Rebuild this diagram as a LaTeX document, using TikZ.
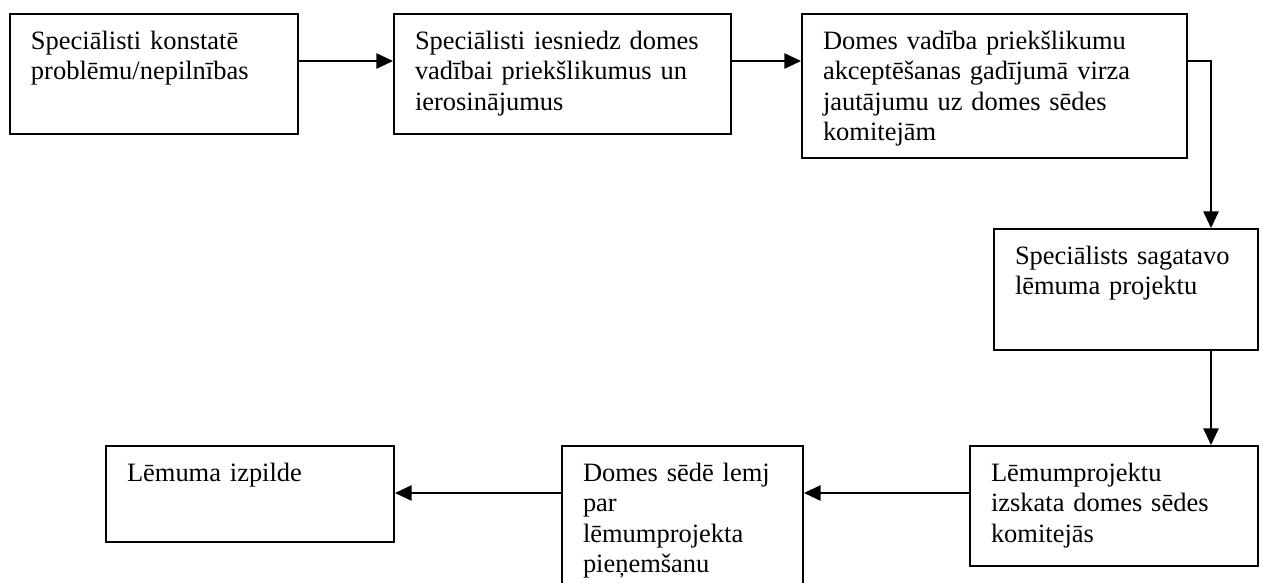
\documentclass[tikz,border=0pt]{standalone}
\usepackage{fontspec}
\setmainfont{Liberation Serif}
\usetikzlibrary{arrows.meta}
\tikzset{
  stepbox/.style={draw, line width=1.5pt, rectangle, anchor=north west,
    inner xsep=15.75pt, inner ysep=0pt, align=left, text height=26.25pt,
    font=\fontsize{19.85pt}{22.9pt}\selectfont},
  arr/.style={line width=1.3pt, -{Triangle[length=12.5pt,width=11.5pt]}}
}
\begin{document}
\begin{tikzpicture}[x=0.75pt,y=-0.75pt]
\useasboundingbox (0,0) rectangle (1263,582);
\node[stepbox, text width=184.5pt, text depth=63.75pt] (b1) at (9,13)
  {Speciālisti konstatē\\problēmu/nepilnības};
\node[stepbox, text width=221.25pt, text depth=63.75pt] (b2) at (393,13)
  {Speciālisti iesniedz domes\\vadībai priekšlikumus un\\ierosinājumus};
\node[stepbox, text width=257.25pt, text depth=81.75pt] (b3) at (801,13)
  {Domes vadība priekšlikumu\\akceptēšanas gadījumā virza\\jautājumu uz domes sēdes\\komitejām};
\node[stepbox, text width=166.5pt, text depth=64.5pt] (b4) at (993,228)
  {Speciālists sagatavo\\lēmuma projektu};
\node[stepbox, text width=184.5pt, text depth=63.75pt] (b5) at (969,445)
  {Lēmumprojektu\\izskata domes sēdes\\komitejās};
\node[stepbox, text width=149.25pt, text depth=93.75pt] (b6) at (561,445)
  {Domes sēdē lemj\\par\\lēmumprojekta\\pieņemšanu};
\node[stepbox, text width=184.5pt, text depth=45.75pt] (b7) at (105,445)
  {Lēmuma izpilde};
\draw[arr] ([yshift=-36pt]b1.north east) -- ([yshift=-36pt]b2.north west);
\draw[arr] ([yshift=-36pt]b2.north east) -- ([yshift=-36pt]b3.north west);
\draw[arr] ([yshift=-36pt]b3.north east) -| ([xshift=-36pt]b4.north east);
\draw[arr] ([xshift=-36pt]b4.south east) -- ([xshift=-36pt]b5.north east);
\draw[arr] ([yshift=-36pt]b5.north west) -- ([yshift=-36pt]b6.north east);
\draw[arr] ([yshift=-36pt]b6.north west) -- ([yshift=-36pt]b7.north east);
\end{tikzpicture}
\end{document}
